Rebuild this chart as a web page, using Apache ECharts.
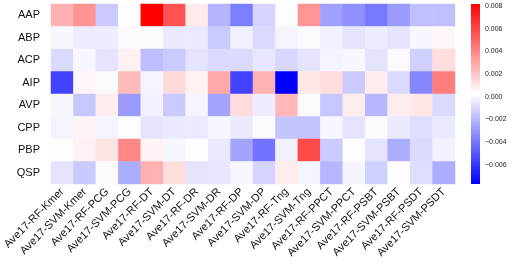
<!DOCTYPE html>
<html><head><meta charset="utf-8">
<script src="https://cdn.jsdelivr.net/npm/echarts@6/dist/echarts.min.js"></script>
<style>html,body{margin:0;padding:0;background:#fff}#c{width:520px;height:269px}</style>
</head><body><div id="c"></div>
<script>
const columns = ['Ave17-RF-Kmer','Ave17-SVM-Kmer','Ave17-RF-PCG','Ave17-SVM-PCG','Ave17-RF-DT','Ave17-SVM-DT','Ave17-RF-DR','Ave17-SVM-DR','Ave17-RF-DP','Ave17-SVM-DP','Ave17-RF-Tng','Ave17-SVM-Tng','Ave17-RF-PPCT','Ave17-SVM-PPCT','Ave17-RF-PSBT','Ave17-SVM-PSBT','Ave17-RF-PSDT','Ave17-SVM-PSDT'];
const rows = ['AAP','ABP','ACP','AIP','AVP','CPP','PBP','QSP'];
const AAP = [0.0027,0.0036,-0.0014,0.0003,0.0082,0.0056,0.0009,-0.0021,-0.0038,-0.0011,0.0002,0.0036,-0.0027,-0.0032,-0.0040,-0.0029,-0.0017,-0.0017];
const ABP = [0.0000,-0.0003,-0.0003,0.0001,0.0001,-0.0004,-0.0004,-0.0014,-0.0002,-0.0009,-0.0001,0.0001,-0.0002,-0.0006,-0.0003,-0.0006,0.0000,0.0005];
const ACP = [-0.0009,0.0000,-0.0006,0.0007,-0.0018,-0.0014,-0.0006,-0.0009,-0.0009,-0.0005,-0.0010,-0.0006,-0.0001,0.0000,-0.0006,0.0001,-0.0012,0.0013];
const AIP = [-0.0056,0.0005,0.0001,0.0024,-0.0001,0.0014,0.0007,0.0029,-0.0056,0.0027,-0.0077,0.0010,0.0013,-0.0014,0.0008,-0.0009,-0.0035,0.0043];
const AVP = [0.0000,-0.0015,0.0008,-0.0029,-0.0002,-0.0014,-0.0001,-0.0026,0.0013,-0.0003,0.0025,0.0001,-0.0015,0.0008,-0.0020,0.0008,0.0010,-0.0009];
const CPP = [-0.0001,0.0006,-0.0001,0.0002,-0.0006,-0.0004,-0.0004,0.0000,-0.0004,0.0001,-0.0016,-0.0016,0.0000,-0.0006,0.0001,-0.0004,-0.0008,-0.0004];
const PBP = [0.0003,0.0007,0.0011,0.0040,0.0006,0.0000,0.0003,-0.0004,-0.0026,-0.0041,-0.0002,0.0059,-0.0014,0.0003,-0.0006,-0.0023,-0.0009,-0.0002];
const QSP = [-0.0006,-0.0014,0.0004,-0.0023,0.0027,0.0013,-0.0006,-0.0005,0.0000,-0.0011,0.0008,-0.0001,-0.0020,-0.0001,-0.0012,0.0002,-0.0008,-0.0023];
const colorbarTicks = [-0.006,-0.004,-0.002,0.000,0.002,0.004,0.006,0.008];
const vmin = -0.0077, vmax = 0.0082;

const matrix = [AAP,ABP,ACP,AIP,AVP,CPP,PBP,QSP];
const data = [];
matrix.forEach((r, yi) => r.forEach((v, xi) => data.push([xi, yi, v])));

const FONT = '"Liberation Sans", Arial, sans-serif';
const chart = echarts.init(document.getElementById('c'), null, {renderer: 'canvas'});
chart.setOption({
  animation: false,
  backgroundColor: '#fff',
  grid: [
    {left: 51, top: 4, width: 404, height: 180},
    {left: 471, top: 4, width: 9, height: 180}
  ],
  xAxis: [
    {type: 'category', data: columns, gridIndex: 0,
     axisLine: {show: false}, axisTick: {show: false}, splitLine: {show: false},
     axisLabel: {rotate: 45, interval: 0, margin: 6, fontSize: 11, color: '#111', fontFamily: FONT}},
    {type: 'value', gridIndex: 1, show: false}
  ],
  yAxis: [
    {type: 'category', data: rows, inverse: true, gridIndex: 0,
     axisLine: {show: false}, axisTick: {show: false}, splitLine: {show: false},
     axisLabel: {margin: 11, fontSize: 11, color: '#111', fontFamily: FONT}},
    {type: 'value', gridIndex: 1, position: 'right', min: vmin, max: vmax,
     splitLine: {show: false}, axisLine: {show: false},
     axisTick: {show: true, length: 3, lineStyle: {color: '#333', width: 0.8}, customValues: colorbarTicks},
     axisLabel: {show: true, margin: 5, fontSize: 7, color: '#222', fontFamily: FONT,
       customValues: colorbarTicks,
       formatter: v => (v < -1e-9 ? '\u2212' : '') + Math.abs(v).toFixed(3)}}
  ],
  visualMap: {
    type: 'continuous', min: vmin, max: vmax, show: false,
    seriesIndex: 0, inRange: {color: ['#0000ff', '#ffffff', '#ff0000']}
  },
  graphic: [{
    type: 'rect', left: 471, top: 4, z: 10,
    shape: {width: 9, height: 180},
    style: {fill: new echarts.graphic.LinearGradient(0, 0, 0, 1, [
      {offset: 0, color: '#ff0000'}, {offset: 0.5, color: '#ffffff'}, {offset: 1, color: '#0000ff'}])}
  }],
  series: [{
    type: 'heatmap', xAxisIndex: 0, yAxisIndex: 0, data: data,
    itemStyle: {borderWidth: 0}, emphasis: {disabled: true}
  }]
});
</script></body></html>
